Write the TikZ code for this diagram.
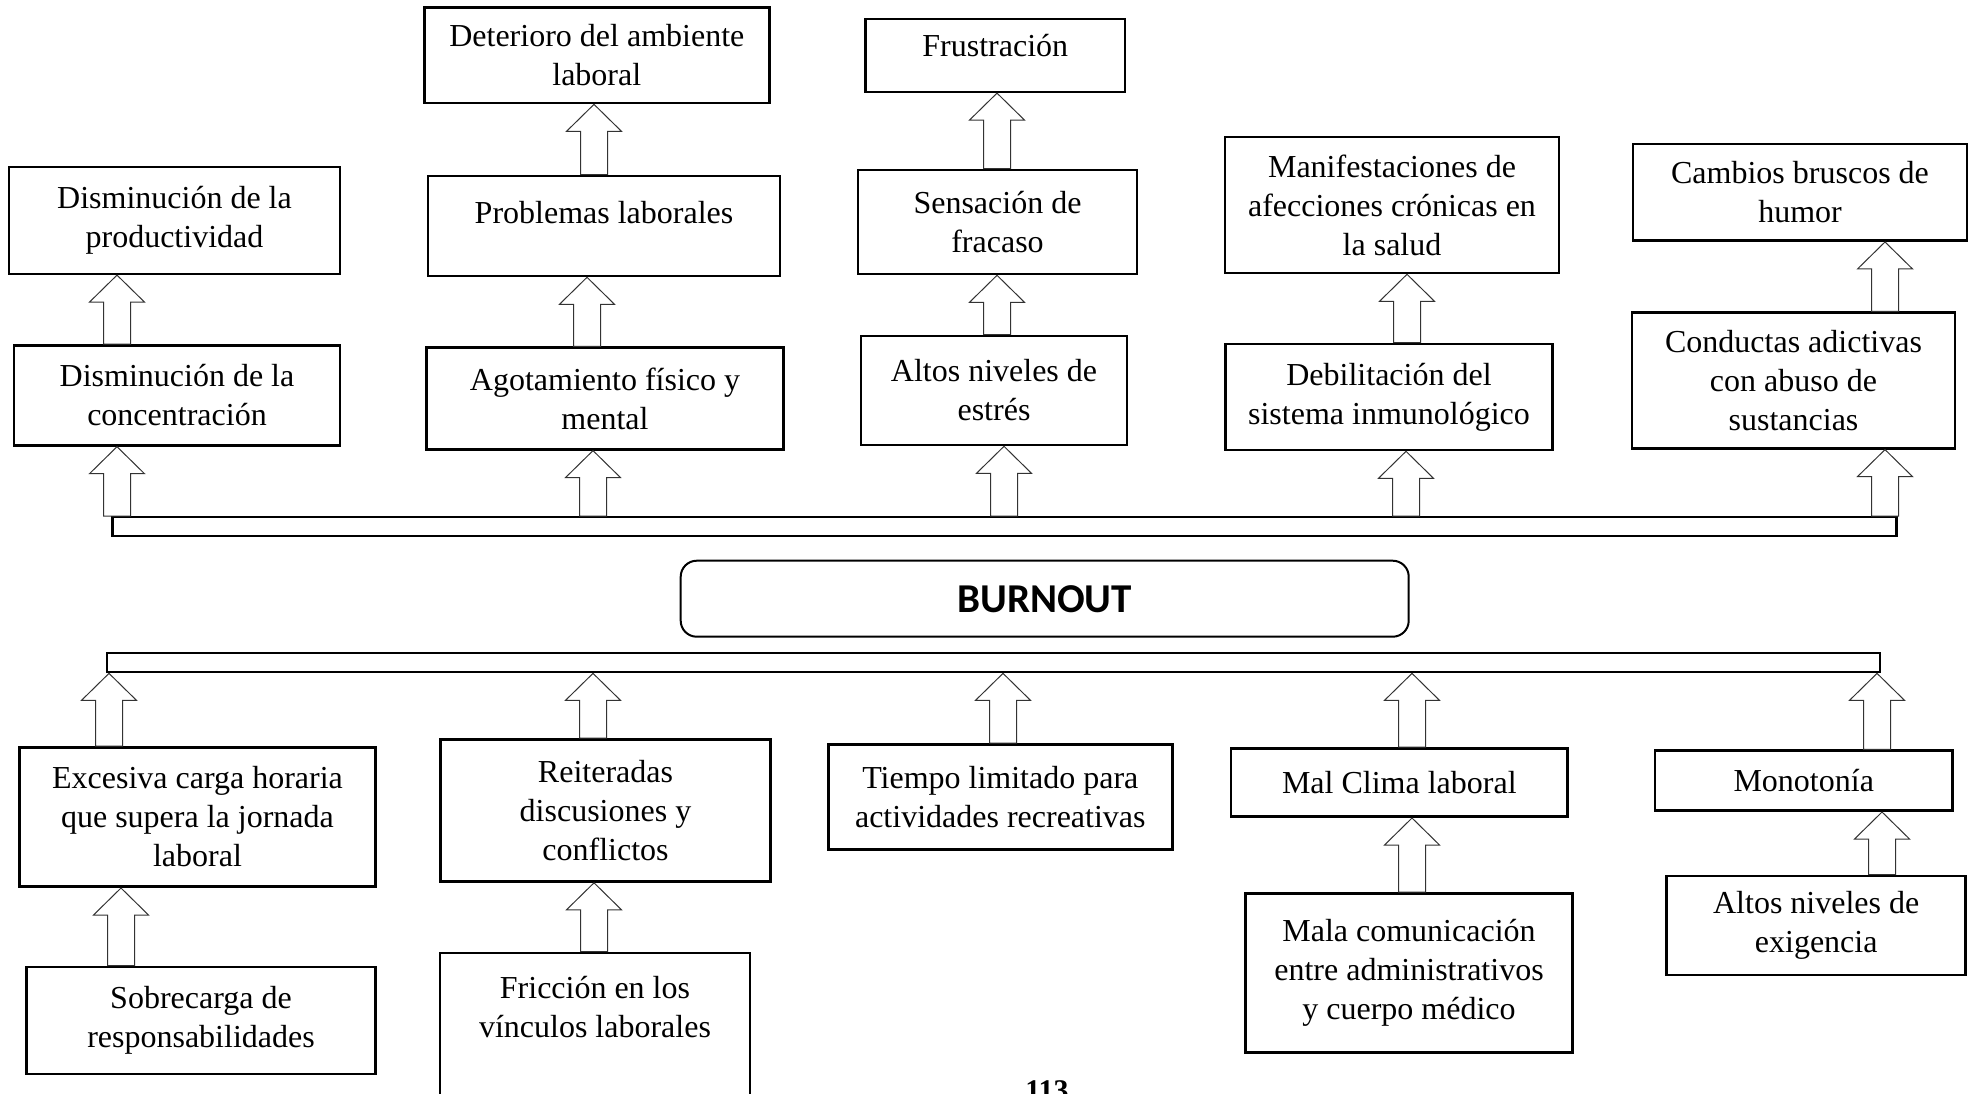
\documentclass[tikz,border=0pt]{standalone}
\usepackage{fontspec}
\setmainfont{Liberation Serif}
\newfontfamily\burnfont{Carlito}
\usepackage{tikz}
\usetikzlibrary{calc}
\newcommand{\boxfont}{\fontsize{16}{19.5}\selectfont}
% hollow up arrow: #1 = x, #2 = lower node, #3 = upper node
\newcommand{\hollowup}[3]{%
  \draw[blockarrow] let \p1=(#2.north), \p2=(#3.south), \p3=(#1,0) in
    (\x3-6.75pt,\y1) -- (\x3-6.75pt,\y2-13.5pt) -- (\x3-13.75pt,\y2-13.5pt)
    -- (\x3,\y2) -- (\x3+13.75pt,\y2-13.5pt) -- (\x3+6.75pt,\y2-13.5pt)
    -- (\x3+6.75pt,\y1) -- cycle;}

\begin{document}
\begin{tikzpicture}[x=0.5pt, y=-0.5pt,
  effbox/.style={draw, line width=1.3pt, align=center, font=\boxfont, inner sep=2pt},
  bar/.style={draw, line width=1.1pt, inner sep=0pt},
  blockarrow/.style={draw=black!80, line width=0.5pt, line join=miter}]
  \useasboundingbox (0,0) rectangle (1968,1093);
  % Upper effects
  \node[effbox, minimum width=165.5pt, minimum height=53.5pt]
    (dprod) at (174.5,220.3) {Disminución de la\\productividad};
  \node[effbox, minimum width=163pt, minimum height=50pt]
    (dconc) at (177,395.4) {Disminución de la\\concentración};
  \node[effbox, minimum width=172.5pt, minimum height=47.75pt]
    (deter) at (596.8,55.3) {Deterioro del ambiente\\laboral};
  \node[effbox, minimum width=176pt, minimum height=50pt, text depth=13.5pt]
    (probl) at (604,226) {Problemas laborales};
  \node[effbox, minimum width=178.25pt, minimum height=50.8pt]
    (agot) at (605,398.5) {Agotamiento físico y\\mental};
  \node[effbox, minimum width=129.75pt, minimum height=36.5pt, text depth=9.5pt]
    (frust) at (995.3,55.3) {Frustración};
  \node[effbox, minimum width=139.5pt, minimum height=52pt]
    (fracaso) at (997.5,222) {Sensación de\\fracaso};
  \node[effbox, minimum width=133pt, minimum height=54.5pt]
    (estres) at (994,390.5) {Altos niveles de\\estrés};
  \node[effbox, minimum width=167pt, minimum height=68pt]
    (cronic) at (1392,205) {Manifestaciones de\\afecciones crónicas en\\la salud};
  \node[effbox, minimum width=163.75pt, minimum height=53pt]
    (inmun) at (1389,397) {Debilitación del\\sistema inmunológico};
  \node[effbox, minimum width=167pt, minimum height=48.35pt]
    (humor) at (1800,192.3) {Cambios bruscos de\\humor};
  \node[effbox, minimum width=161.5pt, minimum height=67.8pt]
    (adict) at (1793.5,380.5) {Conductas adictivas\\con abuso de\\sustancias};
  % Center
  \node[bar, minimum width=892pt, minimum height=9.25pt] (topbar) at (1004.5,526.5) {};
  \node[draw, line width=1pt, rounded corners=8pt, minimum width=364pt, minimum height=38pt,
    font=\burnfont\bfseries\fontsize{20.5}{24}\selectfont]
    (burnout) at (1044.7,598.7) {BURNOUT};
  \node[bar, minimum width=886.5pt, minimum height=9.75pt] (botbar) at (993.5,662.5) {};
  % Lower causes
  \node[effbox, minimum width=178pt, minimum height=69.7pt]
    (carga) at (197.5,817) {Excesiva carga horaria\\que supera la jornada\\laboral};
  \node[effbox, minimum width=174.75pt, minimum height=53.5pt]
    (sobrec) at (201,1020.5) {Sobrecarga de\\responsabilidades};
  \node[effbox, minimum width=165pt, minimum height=71pt]
    (discus) at (605.5,810.5) {Reiteradas\\discusiones y\\conflictos};
  \node[effbox, minimum width=155pt, minimum height=93pt]
    (friccion) at (595,1046) {Fricción en los\\vínculos laborales\\\mbox{}\\\mbox{}};
  \node[effbox, minimum width=172pt, minimum height=52.7pt]
    (tiempo) at (1000.3,797) {Tiempo limitado para\\actividades recreativas};
  \node[effbox, minimum width=168.35pt, minimum height=34.2pt]
    (clima) at (1399.3,782.5) {Mal Clima laboral};
  \node[effbox, minimum width=163.5pt, minimum height=79.5pt]
    (comun) at (1409,972.8) {Mala comunicación\\entre administrativos\\y cuerpo médico};
  \node[effbox, minimum width=148.75pt, minimum height=30pt]
    (monot) at (1803.7,780.7) {Monotonía};
  \node[effbox, minimum width=149.5pt, minimum height=49.5pt]
    (exig) at (1816.2,925.5) {Altos niveles de\\exigencia};
  % Page number
  \node[anchor=base, font=\fontsize{15}{18}\selectfont\bfseries] (pagenum) at (1047,1100) {113};
  % Arrows (top)
  \hollowup{117}{topbar}{dconc}
  \hollowup{593}{topbar}{agot}
  \hollowup{1004}{topbar}{estres}
  \hollowup{1406}{topbar}{inmun}
  \hollowup{1885}{topbar}{adict}
  \hollowup{117}{dconc}{dprod}
  \hollowup{587}{agot}{probl}
  \hollowup{997}{estres}{fracaso}
  \hollowup{1407}{inmun}{cronic}
  \hollowup{1885}{adict}{humor}
  \hollowup{594}{probl}{deter}
  \hollowup{997}{fracaso}{frust}
  % Arrows (bottom)
  \hollowup{109}{carga}{botbar}
  \hollowup{593}{discus}{botbar}
  \hollowup{1003}{tiempo}{botbar}
  \hollowup{1412}{clima}{botbar}
  \hollowup{1877}{monot}{botbar}
  \hollowup{121}{sobrec}{carga}
  \hollowup{594}{friccion}{discus}
  \hollowup{1412}{comun}{clima}
  \hollowup{1882}{exig}{monot}
\end{tikzpicture}
\end{document}
